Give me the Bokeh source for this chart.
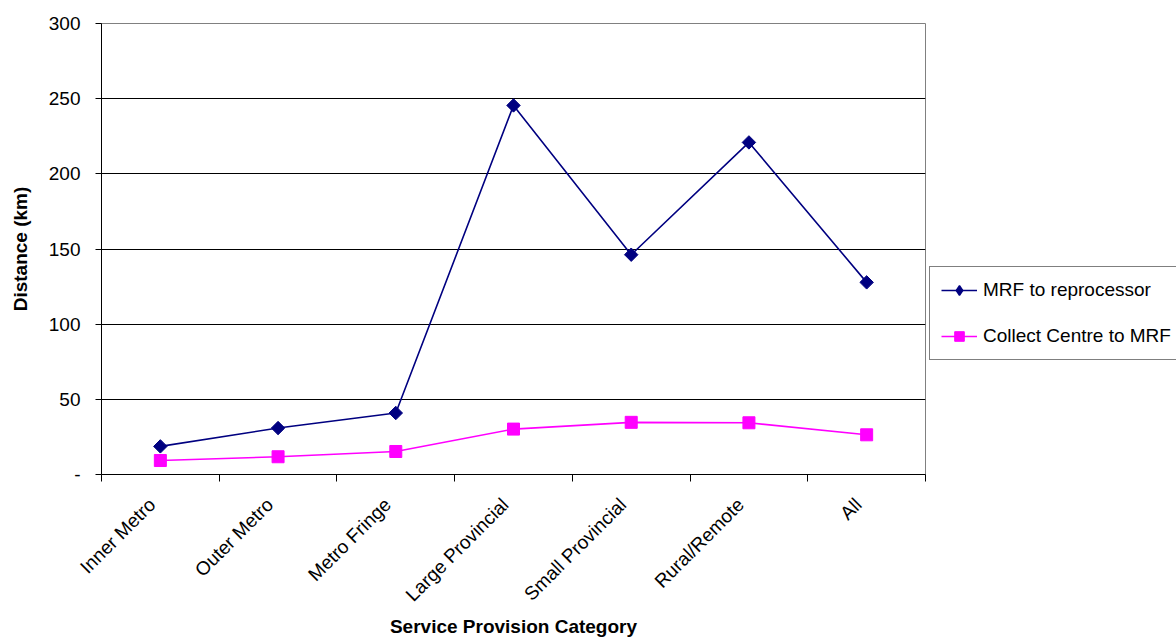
import math
from bokeh.plotting import figure
from bokeh.layouts import row
from bokeh.models import FixedTicker, Legend, LegendItem, Range1d, ColumnDataSource
from bokeh.embed import file_html
from bokeh.resources import INLINE

categories = ["Inner Metro", "Outer Metro", "Metro Fringe", "Large Provincial",
              "Small Provincial", "Rural/Remote", "All"]
mrf_to_reprocessor = [18.7, 30.9, 40.9, 245.5, 146.2, 220.9, 127.8]
collect_centre_to_mrf = [9.3, 11.8, 15.3, 30.2, 34.7, 34.4, 26.4]
y_ticks = [0, 50, 100, 150, 200, 250, 300]
y_tick_labels = ["-", "50", "100", "150", "200", "250", "300"]
series_names = ["MRF to reprocessor", "Collect Centre to MRF"]

FONT = "Liberation Sans"
FS = "19px"
NAVY = "#000080"
MAGENTA = "#FF00FF"

xs = [i + 0.5 for i in range(len(categories))]
# label anchors nudged slightly left of the category centres (as in the reference)
label_pos = [x - 0.07 for x in xs]

p = figure(width=926, height=639, output_backend="svg", toolbar_location=None,
           x_range=Range1d(0, len(categories)), y_range=Range1d(0, 300),
           min_border_left=101, min_border_right=1, min_border_top=23,
           min_border_bottom=165)
p.background_fill_color = "white"
p.border_fill_color = "white"
p.outline_line_color = "#808080"
p.outline_line_width = 1

# x axis
xa = p.xaxis[0]
xa.ticker = FixedTicker(ticks=label_pos, minor_ticks=list(range(len(categories) + 1)))
xa.major_label_overrides = {x: c for x, c in zip(label_pos, categories)}
xa.major_tick_out = 0
xa.major_tick_in = 0
xa.minor_tick_out = 7
xa.minor_tick_in = 0
xa.minor_tick_line_color = "black"
xa.axis_line_color = "black"
xa.major_label_orientation = math.pi / 4
xa.major_label_text_font = FONT
xa.major_label_text_font_size = FS
xa.major_label_text_color = "black"
xa.major_label_standoff = 20
xa.axis_label = "Service Provision Category"
xa.axis_label_text_font = FONT
xa.axis_label_text_font_size = FS
xa.axis_label_text_font_style = "bold"
xa.axis_label_text_color = "black"
xa.axis_label_standoff = 0

# y axis
ya = p.yaxis[0]
ya.ticker = FixedTicker(ticks=y_ticks)
ya.major_label_overrides = {t: l for t, l in zip(y_ticks, y_tick_labels)}
ya.major_tick_out = 6
ya.major_tick_in = 0
ya.minor_tick_out = 0
ya.minor_tick_in = 0
ya.axis_line_color = "black"
ya.major_label_text_font = FONT
ya.major_label_text_font_size = FS
ya.major_label_text_color = "black"
ya.major_label_standoff = 15
ya.axis_label = "Distance (km)"
ya.axis_label_text_font = FONT
ya.axis_label_text_font_size = FS
ya.axis_label_text_font_style = "bold"
ya.axis_label_text_color = "black"
ya.axis_label_standoff = 15

p.xgrid.grid_line_color = None
p.ygrid.ticker = FixedTicker(ticks=y_ticks[1:-1])
p.ygrid.grid_line_color = "black"
p.ygrid.grid_line_width = 1

src_mrf = ColumnDataSource(dict(x=xs, y=mrf_to_reprocessor))
src_cc = ColumnDataSource(dict(x=xs, y=collect_centre_to_mrf))

p.line("x", "y", source=src_mrf, line_color=NAVY, line_width=1.6)
p.scatter("x", "y", source=src_mrf, marker="square", angle=math.pi / 4, size=9.5,
          fill_color=NAVY, line_color=NAVY)
p.line("x", "y", source=src_cc, line_color=MAGENTA, line_width=1.6)
p.scatter("x", "y", source=src_cc, marker="square", size=12,
          fill_color=MAGENTA, line_color=MAGENTA)

# legend panel to the right of the plot area (its data lies outside its visible ranges,
# so only the legend box shows)
lf = figure(width=250, height=639, output_backend="svg", toolbar_location=None,
            x_axis_type=None, y_axis_type=None,
            x_range=Range1d(1000, 1001), y_range=Range1d(1000, 1001),
            min_border_left=0, min_border_right=0, min_border_top=23,
            min_border_bottom=165)
lf.outline_line_color = None
lf.background_fill_color = "white"
lf.border_fill_color = "white"
ll1 = lf.line("x", "y", source=src_mrf, line_color=NAVY, line_width=1.6)
ls1 = lf.scatter("x", "y", source=src_mrf, marker="diamond", size=12.5,
                 fill_color=NAVY, line_color=NAVY, line_width=1.5)
ll2 = lf.line("x", "y", source=src_cc, line_color=MAGENTA, line_width=1.6)
ls2 = lf.scatter("x", "y", source=src_cc, marker="square", size=12,
                 fill_color=MAGENTA, line_color=MAGENTA)

legend = Legend(items=[LegendItem(label=series_names[0], renderers=[ll1, ls1]),
                       LegendItem(label=series_names[1], renderers=[ll2, ls2])],
                location=(3, 114))
legend.border_line_color = "black"
legend.border_line_width = 1
legend.background_fill_alpha = 1
legend.label_text_font = FONT
legend.label_text_font_size = FS
legend.label_text_color = "black"
legend.glyph_width = 36
legend.glyph_height = 24
legend.label_height = 24
legend.label_width = 195
legend.label_standoff = 6
legend.spacing = 22
legend.padding = 11
legend.margin = 0
lf.add_layout(legend, "center")

layout = row(p, lf, spacing=0)
open("out.html", "w").write(file_html(layout, INLINE))
